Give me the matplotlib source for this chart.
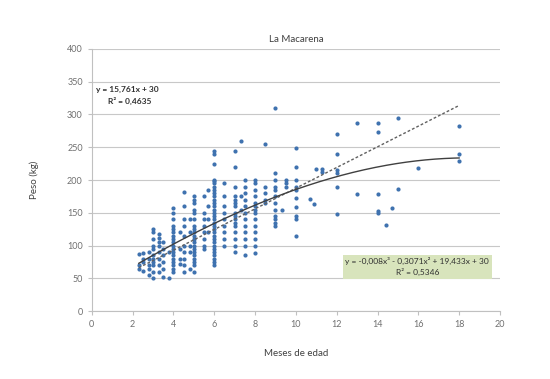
import matplotlib
matplotlib.use("Agg")
import matplotlib.pyplot as plt
import numpy as np

plt.rcParams['font.family'] = ['Lato', 'DejaVu Sans']

# edad (meses) -> pesos (kg), por columna
edades = [2.3, 2.5, 2.8, 3.0, 3.3, 3.5, 3.8, 4.0, 4.3, 4.5, 4.8, 5.0, 5.5, 5.7,
          6.0, 6.5, 7.0, 7.3, 7.5, 8.0, 8.5, 9.0, 9.3, 9.5, 10.0, 10.7, 10.9,
          11.0, 11.3, 12.0, 13.0, 14.0, 14.4, 14.7, 15.0, 16.0, 18.0]
pesos = [
    [87, 70, 65],
    [88, 75, 62, 80],
    [70, 65, 55, 80, 90],
    [50, 60, 70, 75, 80, 85, 95, 100, 110, 120, 125],
    [60, 70, 80, 90, 100, 105, 112, 118],
    [75, 85, 95, 52, 65, 105],
    [50, 90],
    [60, 65, 70, 75, 80, 85, 90, 95, 100, 105, 110, 115, 120, 125, 130, 140, 150, 158],
    [80, 95, 120, 72],
    [182, 160, 140, 130, 115, 100, 90, 80, 70, 60],
    [140, 120, 100, 90, 65],
    [175, 170, 165, 155, 150, 140, 130, 125, 120, 115, 110, 105, 100, 95, 90, 85, 80, 75, 70, 60],
    [150, 140, 130, 120, 110, 100, 175, 95],
    [185, 160, 140, 120],
    [245, 240, 225, 200, 198, 195, 190, 185, 180, 175, 170, 165, 160, 155, 150, 145, 140,
     135, 130, 125, 120, 115, 110, 105, 100, 95, 90, 85, 80, 75, 70],
    [195, 175, 160, 150, 140, 130, 120, 110, 100],
    [245, 220, 190, 175, 170, 165, 160, 150, 145, 140, 135, 130, 120, 110, 100, 90],
    [260, 175, 155],
    [200, 190, 180, 170, 160, 150, 140, 130, 120, 110, 100, 85],
    [200, 195, 185, 175, 165, 160, 155, 150, 140, 130, 120, 110, 100, 88],
    [255, 190, 180, 170, 165],
    [310, 210, 200, 190, 185, 175, 165, 155, 145, 140, 135, 130],
    [154],
    [190, 195, 200],
    [249, 220, 200, 190, 185, 172, 159, 145, 141, 114],
    [171],
    [164],
    [217],
    [213, 217],
    [270, 239, 215, 210, 190, 148],
    [287, 179],
    [287, 274, 179, 153, 149],
    [132],
    [158],
    [294, 187],
    [218],
    [283, 239, 229],
]

x = np.concatenate([[e] * len(p) for e, p in zip(edades, pesos)])
y = np.concatenate(pesos)

# lineas de tendencia (ecuaciones del grafico)
lin_b, lin_a = 15.761, 30
poly = [-0.008, -0.3071, 19.433, 30]

fig = plt.figure(figsize=(5.5, 3.79), dpi=100)
ax = fig.add_axes([0.167, 0.179, 0.742, 0.692])

ax.scatter(x, y, s=9, color='#3f72af', zorder=3, linewidths=0)

xs = np.linspace(2.3, 18, 200)
ax.plot(xs, lin_b * xs + lin_a, color='#606060', lw=1, ls=(0, (2, 1.5)), zorder=4)
ax.plot(xs, np.polyval(poly, xs), color='#404040', lw=1, zorder=4)

ax.set_xlim(0, 20)
ax.set_ylim(0, 400)
ax.set_xticks(range(0, 21, 2))
ax.set_yticks(range(0, 401, 50))
ax.yaxis.grid(True, color='#c8c8c8', lw=0.8)
ax.set_axisbelow(True)
for s in ['top', 'right']:
    ax.spines[s].set_visible(False)
for s in ['left', 'bottom']:
    ax.spines[s].set_color('#c0c0c0')
ax.tick_params(colors='#c0c0c0', labelcolor='#707070', labelsize=6.5, length=3,
               direction='out')

ax.set_title('La Macarena', fontsize=7, color='#404040', pad=5)
ax.set_xlabel('Meses de edad', fontsize=7, color='#404040', labelpad=14)
ax.set_ylabel('Peso (kg)', fontsize=7, color='#404040', labelpad=20)

ax.text(0.2, 335, 'y = 15,761x + 30', fontsize=6, color='#303030', fontweight='bold')
ax.text(0.8, 316, 'R² = 0,4635', fontsize=6, color='#303030', fontweight='bold')

ax.text(15.95, 68, 'y = -0,008x³ - 0,3071x² + 19,433x + 30\nR² = 0,5346',
        fontsize=6, color='#303030', ha='center', va='center', linespacing=1.4,
        bbox=dict(boxstyle='square,pad=0.3', fc='#d8e4bc', ec='none'))

fig.savefig('out.png', dpi=100)
